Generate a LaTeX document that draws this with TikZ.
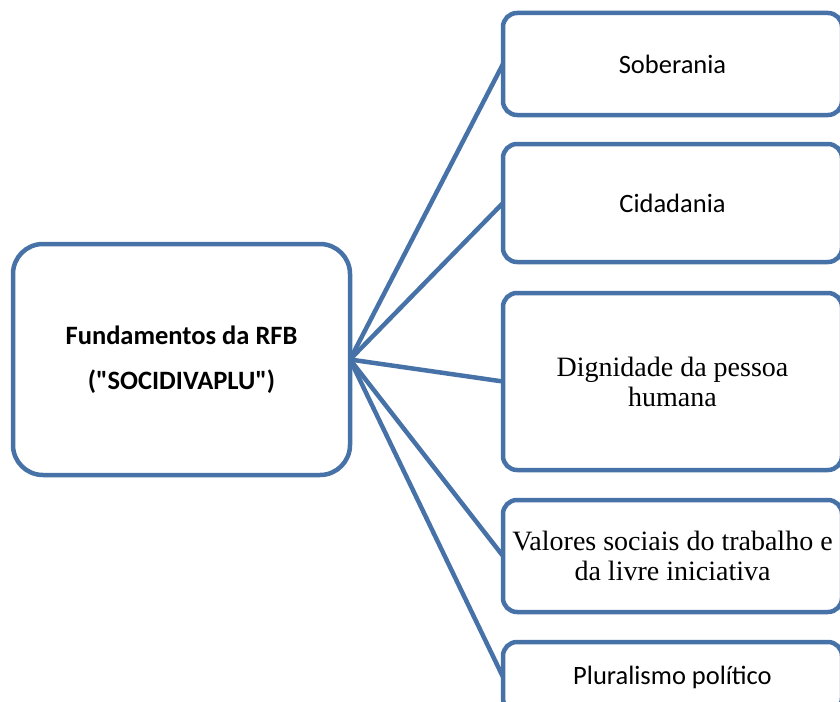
\documentclass[tikz,border=0pt]{standalone}
\usepackage{fontspec}
\setmainfont{Carlito}
\newfontfamily\srf{Liberation Serif}
\definecolor{fblue}{HTML}{4672A8}
\newcommand{\sq}{\XeTeXglyph\XeTeXcharglyph"22\relax}

\begin{document}
\begin{tikzpicture}[x=1pt,y=-1pt]
    \tikzstyle{every node}=[font=\fontsize{26.5}{45}\selectfont]
    \tikzstyle{box}=[draw=fblue, line width=4.5pt, rounded corners=14pt, inner sep=0pt, outer sep=0pt, minimum width=339pt, align=center]
    \tikzstyle{serif box}=[box, font=\srf\fontsize{28}{30}\selectfont]
    \tikzstyle{link}=[draw=fblue, line width=4.5pt]
    \useasboundingbox (0,0) rectangle (840,701);
    % root
    \node[box, rounded corners=30pt, minimum width=337pt, minimum height=231pt] (fund) at (181.5,359.5)
        {\textbf{Fundamentos da RFB}\\\textbf{(\sq SOCIDIVAPLU\sq)}};
    % fundamentos
    \node[box, minimum height=102pt] (sob) at (672.5,64) {Soberania};
    \node[box, minimum height=118pt] (cid) at (672.5,203) {Cidadania};
    \node[serif box, minimum height=177pt] (dig) at (672.5,381.5) {Dignidade da pessoa\\humana};
    \node[serif box, minimum height=112pt] (val) at (672.5,556) {Valores sociais do trabalho e\\da livre iniciativa};
    \node[box, minimum height=70pt] (plu) at (672.5,677) {Pluralismo político};
    % ligacoes
    \foreach \f in {sob,cid,dig,val,plu}
        \draw[link] (fund.east) -- (\f.west);
\end{tikzpicture}
\end{document}
